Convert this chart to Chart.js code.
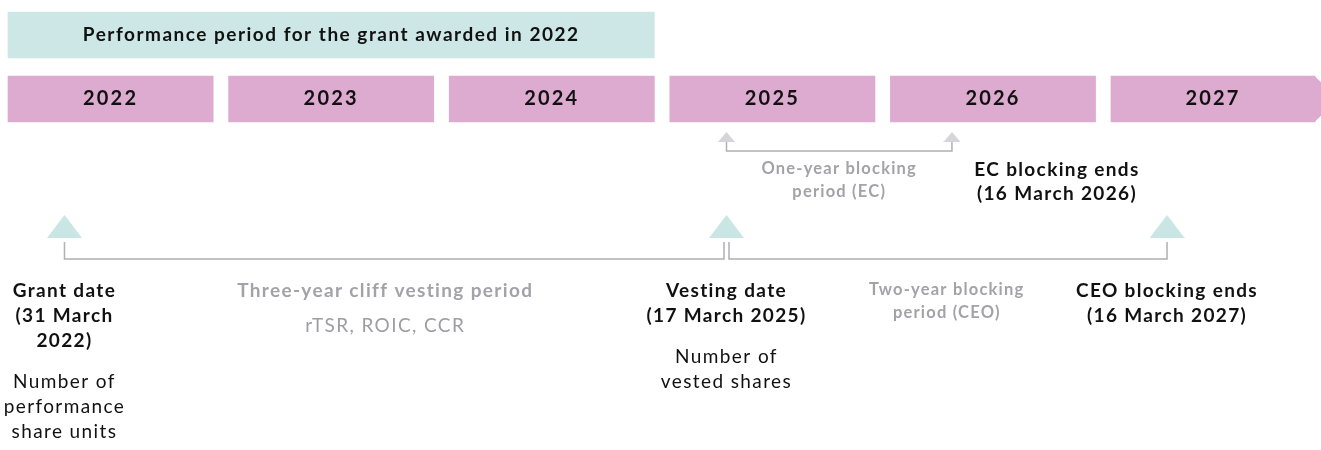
<!DOCTYPE html>
<html><head><meta charset="utf-8">
<script src="https://cdn.jsdelivr.net/npm/chart.js@4/dist/chart.umd.min.js"></script>
<style>html,body{margin:0;padding:0;background:#fff}#wrap{width:1321px;height:450px;position:relative}</style>
</head><body><div id="wrap"><canvas id="c"></canvas></div>
<script>
// ---------- data ----------
const years = ['2022', '2023', '2024', '2025', '2026', '2027'];
const yearStarts = [2022, 2023, 2024, 2025, 2026, 2027];
const yearEnds = [2022.93, 2023.93, 2024.93, 2025.93, 2026.93, 2027.925];
const performanceLabel = 'Performance period for the grant awarded in 2022';
const performanceStart = 2022;
const performanceEnd = 2024.93;
// milestone dates as fractional years
const grantDate = 2022.256;      // 31 March 2022
const vestingDate = 2025.257;    // 17 March 2025
const ecEndDate = 2026.279;      // 16 March 2026
const ceoEndDate = 2027.254;     // 16 March 2027
const grantLines = ['Grant date', '(31 March', '2022)'];
const grantNote = ['Number of', 'performance', 'share units'];
const vestingLines = ['Vesting date', '(17 March 2025)'];
const vestingNote = ['Number of', 'vested shares'];
const cliffLines = ['Three-year cliff vesting period'];
const cliffNote = ['rTSR, ROIC, CCR'];
const ecPeriodLines = ['One-year blocking', 'period (EC)'];
const ecEndLines = ['EC blocking ends', '(16 March 2026)'];
const ceoPeriodLines = ['Two-year blocking', 'period (CEO)'];
const ceoEndLines = ['CEO blocking ends', '(16 March 2027)'];

// ---------- layout / style ----------
const ROW = { perf: 35, years: 99, ecTri: 137, ecTop: 142, ecLine: 151, ecText: 170,
  tri: 226.5, brTop: 242, brLine: 259, label: 291, note: 357, grantNote: 382, cliffNote: 326 };
const GAP = 0.0113;
const C = { teal: '#cde7e6', purple: '#dcabcf', tealTri: '#c9e5e4', grayTri: '#d4d4d9',
  line: '#b0b0b5', black: '#111111', grayBold: '#a3a2a9', grayReg: '#9e9da4' };
const FONT = 'Lato, "Open Sans", sans-serif';

function triImg(w, h, color) {
  const cv = document.createElement('canvas');
  cv.width = w; cv.height = h;
  const g = cv.getContext('2d');
  g.fillStyle = color;
  g.beginPath(); g.moveTo(w / 2, 0); g.lineTo(w, h); g.lineTo(0, h); g.closePath(); g.fill();
  return cv;
}
const tealTri = triImg(35, 23, C.tealTri);
const grayTri = triImg(17, 10, C.grayTri);

function bracket(x1, x2, top, base) {
  return [{ x: x1, y: top }, { x: x1, y: base }, { x: x2, y: base }, { x: x2, y: top }];
}

const lineDs = (data) => ({ type: 'line', data, borderColor: C.line, borderWidth: 1.5,
  pointRadius: 0, fill: false, tension: 0, indexAxis: 'x' });

const textBlocks = [
  { x: grantDate, y: ROW.label, lines: grantLines, w: 'bold', c: C.black, lh: 25 },
  { x: grantDate, y: ROW.grantNote, lines: grantNote, w: 'normal', c: C.black, lh: 25 },
  { x: 2023.71, y: ROW.label, lines: cliffLines, w: 'bold', c: C.grayBold, lh: 24 },
  { x: 2023.71, y: ROW.cliffNote, lines: cliffNote, w: 'normal', c: C.grayReg, lh: 24 },
  { x: vestingDate, y: ROW.label, lines: vestingLines, w: 'bold', c: C.black, lh: 25 },
  { x: vestingDate, y: ROW.note, lines: vestingNote, w: 'normal', c: C.black, lh: 25 },
  { x: (vestingDate + ceoEndDate) / 2, y: ROW.label - 1, lines: ceoPeriodLines, w: 'bold', c: C.grayBold, lh: 23, s: 16.5, ls: 1.2 },
  { x: ceoEndDate, y: ROW.label, lines: ceoEndLines, w: 'bold', c: C.black, lh: 25 },
  { x: (vestingDate + ecEndDate) / 2, y: ROW.ecText - 1, lines: ecPeriodLines, w: 'bold', c: C.grayBold, lh: 23, s: 16.5, ls: 1.2 },
  { x: 2026.755, y: ROW.ecText, lines: ecEndLines, w: 'bold', c: C.black, lh: 24 }
];

function setFont(ctx, weight, size, spacing) {
  ctx.font = weight + ' ' + size + 'px ' + FONT;
  if ('letterSpacing' in ctx) ctx.letterSpacing = spacing + 'px';
}

const labelPlugin = {
  id: 'labels',
  afterDatasetsDraw(chart) {
    const ctx = chart.ctx, xs = chart.scales.x, ys = chart.scales.y;
    ctx.save();
    // chevron on last year bar
    const meta = chart.getDatasetMeta(1);
    const last = meta.data[meta.data.length - 1];
    const h = last.height / 2;
    ctx.fillStyle = C.purple;
    ctx.beginPath();
    ctx.moveTo(last.x - 0.5, last.y - h); ctx.lineTo(last.x + h, last.y); ctx.lineTo(last.x - 0.5, last.y + h);
    ctx.closePath(); ctx.fill();

    ctx.textAlign = 'center'; ctx.textBaseline = 'middle';
    ctx.fillStyle = C.black;
    setFont(ctx, 'bold', 19, 1.5);
    ctx.fillText(performanceLabel, xs.getPixelForValue((performanceStart + performanceEnd) / 2), ys.getPixelForValue(ROW.perf));
    setFont(ctx, 'bold', 20, 2.2);
    years.forEach((t, i) => {
      ctx.fillText(t, xs.getPixelForValue((yearStarts[i] + yearEnds[i]) / 2), ys.getPixelForValue(ROW.years));
    });
    textBlocks.forEach(b => {
      const bold = b.w === 'bold';
      setFont(ctx, b.w, b.s || 19, b.ls !== undefined ? b.ls : (bold ? 1.35 : 1.4));
      ctx.fillStyle = b.c;
      b.lines.forEach((t, i) => {
        ctx.fillText(t, xs.getPixelForValue(b.x), ys.getPixelForValue(b.y) + i * b.lh);
      });
    });
    ctx.restore();
  }
};

const X_MIN = 2022 - 8 / 220.6;
const X_MAX = X_MIN + 1321 / 220.6;

new Chart(document.getElementById('c'), {
  type: 'bar',
  data: {
    datasets: [
      { type: 'bar', indexAxis: 'y', grouped: false, barThickness: 46, backgroundColor: C.teal,
        borderWidth: 0, data: [{ x: [performanceStart, performanceEnd], y: ROW.perf }] },
      { type: 'bar', indexAxis: 'y', grouped: false, barThickness: 46, backgroundColor: C.purple,
        borderWidth: 0, data: years.map((t, i) => ({ x: [yearStarts[i], yearEnds[i]], y: ROW.years })) },
      lineDs(bracket(vestingDate, ecEndDate, ROW.ecTop, ROW.ecLine)),
      lineDs(bracket(grantDate, vestingDate - GAP, ROW.brTop, ROW.brLine)),
      lineDs(bracket(vestingDate + GAP, ceoEndDate, ROW.brTop, ROW.brLine)),
      { type: 'scatter', pointStyle: grayTri, pointRadius: 8,
        data: [{ x: vestingDate, y: ROW.ecTri }, { x: ecEndDate, y: ROW.ecTri }] },
      { type: 'scatter', pointStyle: tealTri, pointRadius: 12,
        data: [grantDate, vestingDate, ceoEndDate].map(d => ({ x: d, y: ROW.tri })) }
    ]
  },
  options: {
    responsive: true, maintainAspectRatio: false, animation: false,
    layout: { padding: 0, autoPadding: false },
    events: [],
    plugins: { legend: { display: false }, tooltip: { enabled: false } },
    scales: {
      x: { type: 'linear', display: false, offset: false, grace: 0, min: X_MIN, max: X_MAX },
      y: { type: 'linear', display: false, offset: false, grace: 0, min: 0, max: 450, reverse: true }
    }
  },
  plugins: [labelPlugin]
});
</script></body></html>
